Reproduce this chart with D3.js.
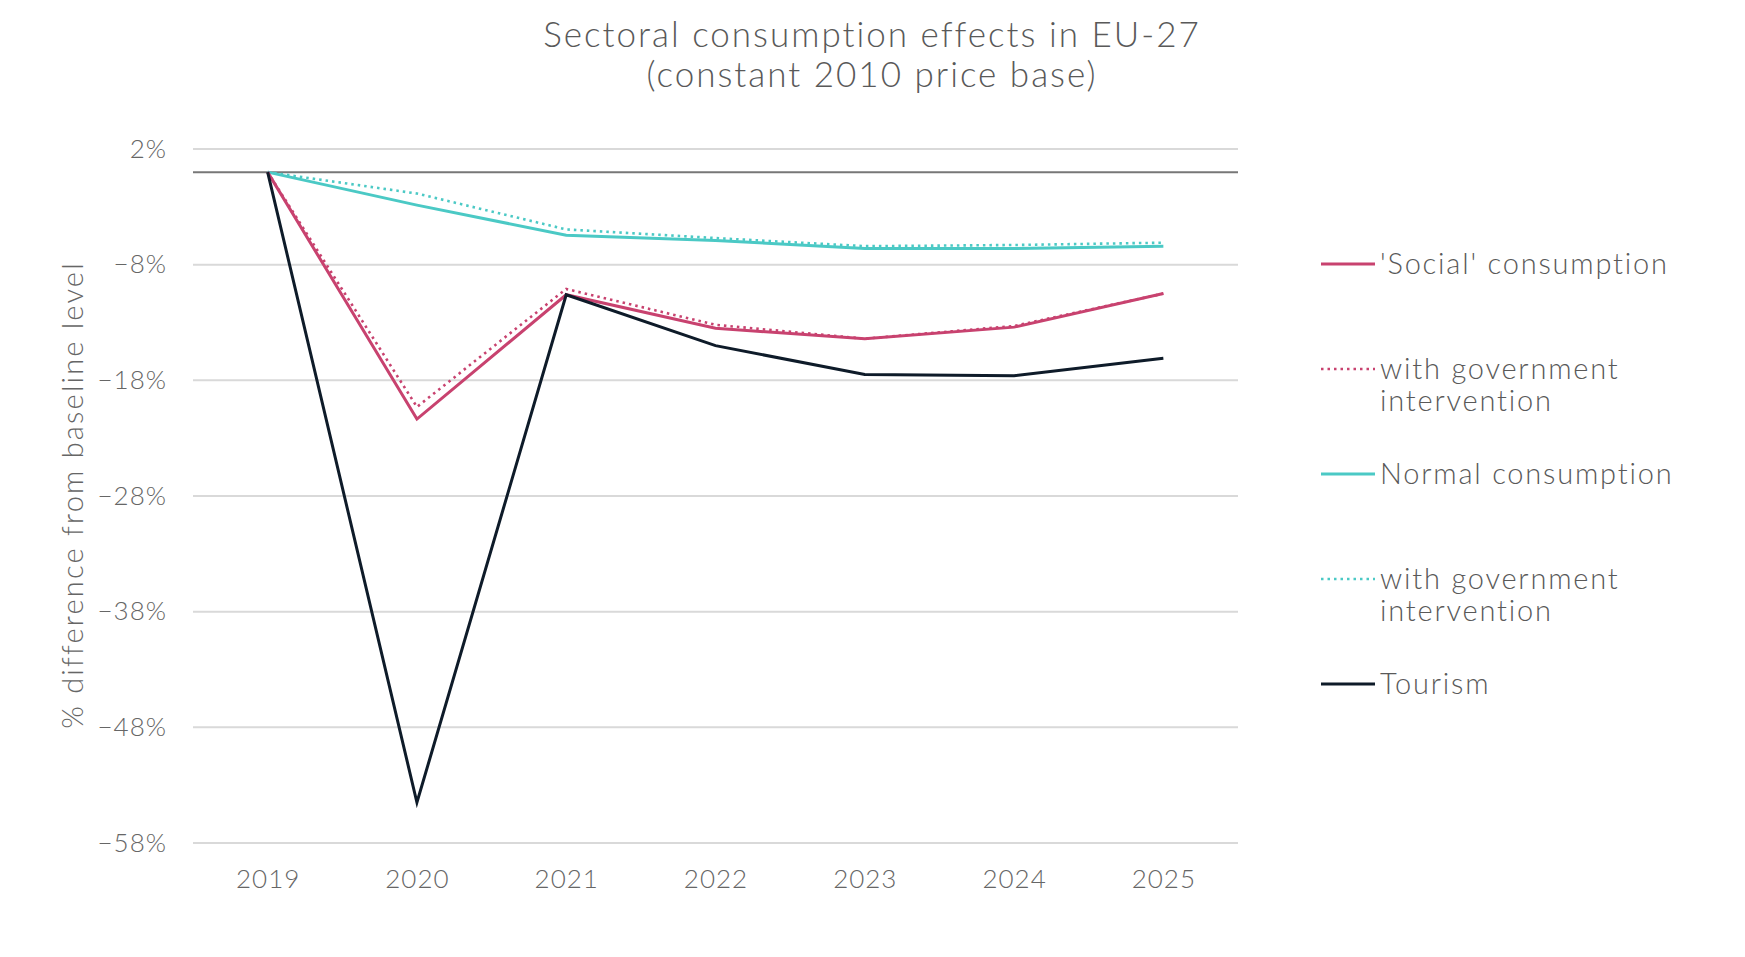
<!DOCTYPE html>
<html>
<head>
<meta charset="utf-8">
<script src="https://cdn.jsdelivr.net/npm/d3@7"></script>
<style>
  html, body { margin: 0; padding: 0; background: #fff; }
  svg { display: block; font-family: Lato, "Open Sans", sans-serif; font-weight: 300; }
  .grid line { stroke: #d9d9d9; stroke-width: 2; }
  .tick text { fill: #666; font-family: Lato, "Open Sans", sans-serif; font-weight: 300; font-size: 26px; letter-spacing: 1px; }
</style>
</head>
<body>
<svg id="chart"></svg>
<script>
// Data;
const years = ['2019', '2020', '2021', '2022', '2023', '2024', '2025'];
const socialConsumption = [0, -21.35, -10.6, -13.5, -14.4, -13.4, -10.5];
const socialWithGov = [0, -20.3, -10.1, -13.2, -14.4, -13.3, -10.5];
const normalConsumption = [0, -2.85, -5.45, -5.9, -6.6, -6.6, -6.4];
const normalWithGov = [0, -1.85, -4.95, -5.7, -6.4, -6.3, -6.1];
const tourism = [0, -54.5, -10.6, -15.0, -17.5, -17.6, -16.1];
const yTicks = [2, -8, -18, -28, -38, -48, -58];

const series = [
    { name: 'with government intervention', values: normalWithGov, color: '#4bc9c5', dotted: true },
    { name: 'Normal consumption', values: normalConsumption, color: '#4bc9c5', dotted: false },
    { name: 'with government intervention', values: socialWithGov, color: '#c8426f', dotted: true },
    { name: "'Social' consumption", values: socialConsumption, color: '#c8426f', dotted: false },
    { name: 'Tourism', values: tourism, color: '#0e1b29', dotted: false }
];

const legendItems = [
    { lines: ["'Social' consumption"], color: '#c8426f', dotted: false, y: 264 },
    { lines: ['with government', 'intervention'], color: '#c8426f', dotted: true, y: 369 },
    { lines: ['Normal consumption'], color: '#4bc9c5', dotted: false, y: 474 },
    { lines: ['with government', 'intervention'], color: '#4bc9c5', dotted: true, y: 579 },
    { lines: ['Tourism'], color: '#0e1b29', dotted: false, y: 684 }
];

const width = 1745;
const height = 957;
const plot = { left: 193, right: 1238, top: 149, bottom: 843 };

const svg = d3.select('#chart').attr('width', width).attr('height', height);

const x = d3.scalePoint().domain(years).range([plot.left, plot.right]).padding(0.5);
const y = d3.scaleLinear().domain([-58, 2]).range([plot.bottom, plot.top]);

// Gridlines;
svg.append('g')
    .attr('class', 'grid')
    .selectAll('line')
    .data(yTicks)
    .enter()
    .append('line')
    .attr('x1', plot.left)
    .attr('x2', plot.right)
    .attr('y1', (d) => y(d))
    .attr('y2', (d) => y(d));

// Zero line;
svg.append('line')
    .attr('x1', plot.left)
    .attr('x2', plot.right)
    .attr('y1', y(0))
    .attr('y2', y(0))
    .attr('stroke', '#777')
    .attr('stroke-width', 2);

// Y axis;
const yAxis = svg.append('g')
    .attr('transform', `translate(${plot.left},0)`)
    .call(d3.axisLeft(y).tickValues(yTicks).tickSize(0).tickPadding(26).tickFormat((d) => d3.format('d')(d) + '%'));
yAxis.select('.domain').remove();
yAxis.attr('font-family', null).attr('font-size', null);

// X axis;
const xAxis = svg.append('g')
    .attr('transform', `translate(0,${plot.bottom})`)
    .call(d3.axisBottom(x).tickSize(0).tickPadding(27));
xAxis.select('.domain').remove();
xAxis.attr('font-family', null).attr('font-size', null);

// Lines;
const line = d3.line()
    .x((d, i) => x(years[i]))
    .y((d) => y(d));

svg.selectAll('.series')
    .data(series)
    .enter()
    .append('path')
    .attr('class', 'series')
    .attr('fill', 'none')
    .attr('stroke', (d) => d.color)
    .attr('stroke-width', (d) => (d.dotted ? 2.6 : 3))
    .attr('stroke-dasharray', (d) => (d.dotted ? '2.5,4' : null))
    .attr('stroke-linejoin', 'miter')
    .attr('d', (d) => line(d.values));

// Title;
const title = svg.append('text')
    .attr('x', 872)
    .attr('text-anchor', 'middle')
    .attr('fill', '#595959')
    .style('font-size', '35px')
    .style('letter-spacing', '2px');
title.append('tspan').attr('x', 872).attr('y', 47).text('Sectoral consumption effects in EU-27');
title.append('tspan').attr('x', 872).attr('y', 87).text('(constant 2010 price base)');

// Y axis title;
svg.append('text')
    .attr('transform', 'translate(83,495) rotate(-90)')
    .attr('text-anchor', 'middle')
    .attr('fill', '#666')
    .style('font-size', '29px')
    .style('letter-spacing', '2.2px')
    .text('% difference from baseline level');

// Legend;
const legend = svg.append('g');
const item = legend.selectAll('.legend-item')
    .data(legendItems)
    .enter()
    .append('g')
    .attr('class', 'legend-item')
    .attr('transform', (d) => `translate(1321,${d.y})`);

item.append('line')
    .attr('x1', 0)
    .attr('x2', 54)
    .attr('stroke', (d) => d.color)
    .attr('stroke-width', (d) => (d.dotted ? 2.6 : 3))
    .attr('stroke-dasharray', (d) => (d.dotted ? '2.5,4' : null));

item.append('text')
    .attr('x', 59)
    .attr('fill', '#595959')
    .style('font-size', '29px')
    .style('letter-spacing', '1.8px')
    .selectAll('tspan')
    .data((d) => d.lines)
    .enter()
    .append('tspan')
    .attr('x', 59)
    .attr('y', (d, i) => i * 32)
    .attr('dy', '0.35em')
    .text((d) => d);
</script>
</body>
</html>
